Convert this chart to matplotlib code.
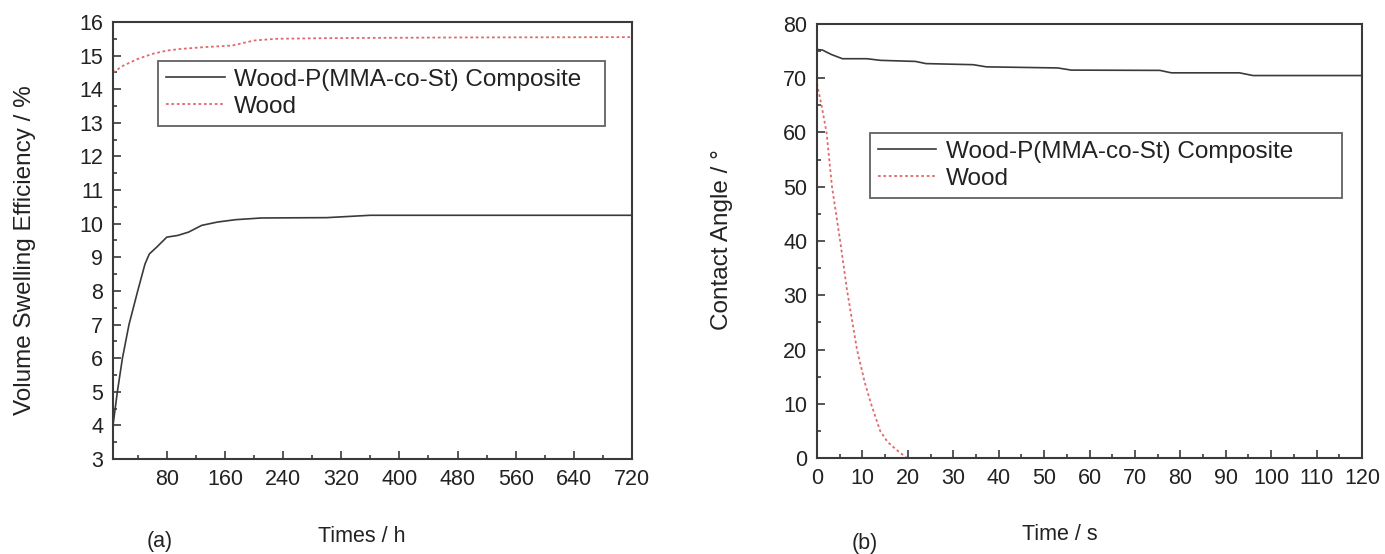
import matplotlib
matplotlib.use("Agg")
import matplotlib.pyplot as plt
from matplotlib.ticker import MultipleLocator

plt.rcParams['font.family'] = ['Liberation Sans', 'DejaVu Sans']

# (a) volume swelling efficiency vs time (h)
t_a = [6, 12, 19, 28, 40, 50, 56, 66, 80, 95, 110, 128, 150, 175, 210, 300, 360, 480, 600, 720]
comp_a = [4.0, 5.0, 6.0, 7.0, 8.0, 8.8, 9.1, 9.3, 9.6, 9.65, 9.75, 9.95, 10.05, 10.12,
          10.17, 10.18, 10.25, 10.25, 10.25, 10.25]
t_wood_a = [6, 20, 40, 60, 80, 100, 130, 170, 200, 230, 300, 480, 720]
wood_a = [14.5, 14.7, 14.9, 15.05, 15.15, 15.2, 15.25, 15.3, 15.45, 15.5, 15.52, 15.54, 15.55]

# (b) contact angle vs time (s)
t_b = [0, 1.2, 3.1, 5.6, 11, 14, 21.7, 24, 34.4, 37.3, 53, 56, 75.5, 78, 93, 96, 120]
comp_b = [75.3, 75.2, 74.4, 73.6, 73.6, 73.3, 73.1, 72.7, 72.5, 72.1, 71.9, 71.5,
          71.45, 71.0, 71.0, 70.5, 70.5]
t_wood_b = [0, 1.0, 2.1, 3.3, 5.1, 6.6, 8.8, 10.5, 11.9, 13.9, 15.5, 17.5, 19.8, 40, 80, 120]
wood_b = [69, 65, 60, 50, 40, 31, 20, 14, 10, 5, 3, 1.5, 0, 0, 0, 0]

labels = ['Wood-P(MMA-co-St) Composite', 'Wood']
dark = '#3a3a3a'
red = '#e06a6a'
txt = '#222222'

fig = plt.figure(figsize=(13.85, 5.54), dpi=100)
ax1 = fig.add_axes([113/1385, 1-459/554, (632-113)/1385, (459-22)/554])
ax2 = fig.add_axes([817/1385, 1-458/554, (1362-817)/1385, (458-24)/554])


def style(ax):
    for s in ax.spines.values():
        s.set_color(dark)
        s.set_linewidth(1.5)
    ax.tick_params(which='both', direction='in', top=False, right=False,
                   color=dark, labelcolor=txt, labelsize=15.5, width=1.2, pad=7)
    ax.tick_params(which='major', length=6)
    ax.tick_params(which='minor', length=3)


def add_legend(ax, anchor):
    leg = ax.legend(loc='upper left', bbox_to_anchor=anchor, mode='expand',
                    borderaxespad=0, fontsize=17.5, handlelength=2.4, handletextpad=0.4,
                    labelspacing=0.2, borderpad=0.33, fancybox=False)
    leg.get_frame().set_edgecolor(dark)
    leg.get_frame().set_linewidth(1.3)
    for t in leg.get_texts():
        t.set_color(txt)


ax1.plot(t_a, comp_a, color=dark, lw=1.2, label=labels[0])
ax1.plot(t_wood_a, wood_a, color=red, lw=1.3, ls=(0, (1.5, 1.5)), label=labels[1])
ax1.set_xlim(6, 720)
ax1.set_ylim(3, 16)
ax1.xaxis.set_major_locator(MultipleLocator(80))
ax1.xaxis.set_minor_locator(MultipleLocator(40))
ax1.yaxis.set_major_locator(MultipleLocator(1))
ax1.yaxis.set_minor_locator(MultipleLocator(0.5))
style(ax1)
add_legend(ax1, (0.087, 0, 0.861, 0.911))

ax2.plot(t_b, comp_b, color=dark, lw=1.2, label=labels[0])
ax2.plot(t_wood_b, wood_b, color=red, lw=1.3, ls=(0, (1.5, 1.5)), label=labels[1])
ax2.set_xlim(0, 120)
ax2.set_ylim(0, 80)
ax2.xaxis.set_major_locator(MultipleLocator(10))
ax2.xaxis.set_minor_locator(MultipleLocator(5))
ax2.yaxis.set_major_locator(MultipleLocator(10))
ax2.yaxis.set_minor_locator(MultipleLocator(5))
style(ax2)
add_legend(ax2, (0.097, 0, 0.866, 0.749))

fig.text(25/1385, 1-250/554, 'Volume Swelling Efficiency / %', rotation=90,
         ha='center', va='center', fontsize=17.5, color=txt)
fig.text(362/1385, 1-537/554, 'Times / h', ha='center', va='center', fontsize=15.5, color=txt)
fig.text(160/1385, 1-541/554, '(a)', ha='center', va='center', fontsize=15.5, color=txt)
fig.text(722/1385, 1-240/554, 'Contact Angle / °', rotation=90,
         ha='center', va='center', fontsize=17.5, color=txt)
fig.text(1060/1385, 1-535/554, 'Time / s', ha='center', va='center', fontsize=15.5, color=txt)
fig.text(865/1385, 1-543/554, '(b)', ha='center', va='center', fontsize=15.5, color=txt)

fig.savefig('out.png', dpi=100)
